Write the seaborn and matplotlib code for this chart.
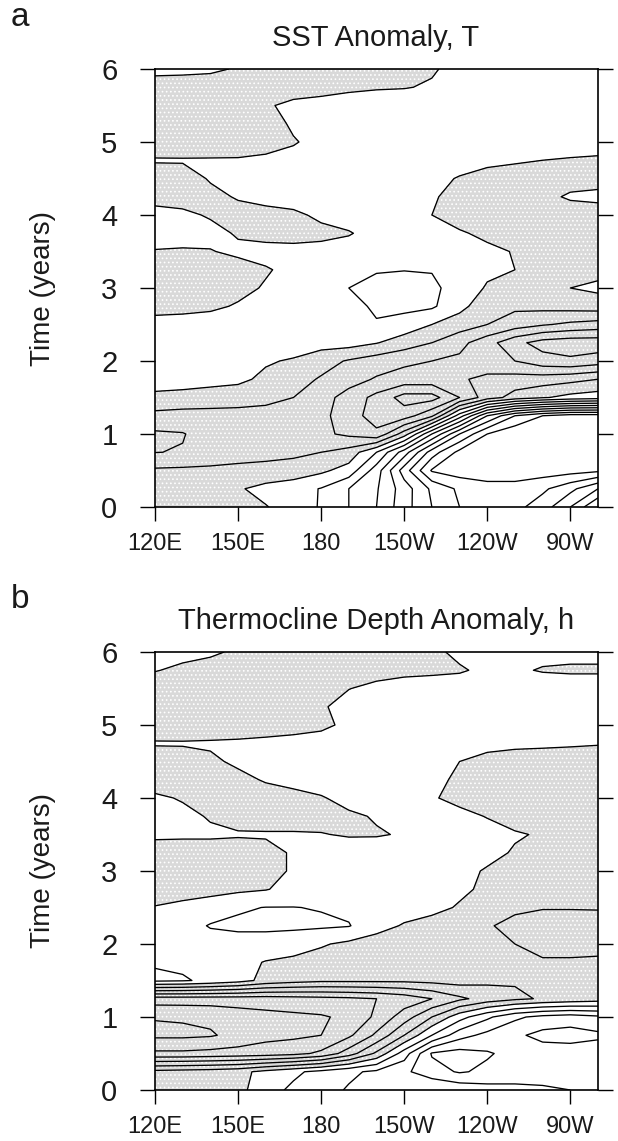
import matplotlib
matplotlib.use("Agg")
import matplotlib.pyplot as plt
import numpy as np
import seaborn as sns

# longitude (deg E) and time (years) of the digitised grid
lons = [120, 130, 140, 150, 160, 170, 180, 190, 200, 210, 220, 230, 240, 250, 260, 270, 280]
years = [6.0, 5.75, 5.5, 5.25, 5.0, 4.75, 4.5, 4.25, 4.0, 3.75, 3.5, 3.25, 3.0,
         2.75, 2.5, 2.25, 2.0, 1.75, 1.5, 1.25, 1.0, 0.75, 0.5, 0.25, 0.0]

# SST anomaly T, one row per year value above
sst_rows = [
    [-0.3, -0.3, -0.2, 0.1, 0.3, 0.3, 0.3, 0.3, 0.3, 0.2, 0.1, -0.3, -0.6, -0.6, -0.5, -0.4, -0.4],
    [0.5, 0.6, 0.6, 0.5, 0.4, 0.4, 0.3, 0.2, 0.1, 0.05, -0.1, -0.4, -0.6, -0.6, -0.5, -0.5, -0.4],
    [0.8, 0.8, 0.8, 0.6, 0.1, -0.2, -0.3, -0.5, -0.6, -0.6, -0.6, -0.6, -0.6, -0.5, -0.5, -0.5, -0.5],
    [0.8, 0.8, 0.8, 0.6, 0.3, -0.1, -0.3, -0.5, -0.6, -0.7, -0.7, -0.7, -0.6, -0.6, -0.5, -0.5, -0.5],
    [0.7, 0.8, 0.7, 0.6, 0.3, 0.05, -0.2, -0.4, -0.6, -0.7, -0.7, -0.7, -0.6, -0.5, -0.4, -0.3, -0.3],
    [-0.1, -0.1, -0.1, -0.1, -0.15, -0.2, -0.3, -0.4, -0.5, -0.5, -0.4, -0.3, -0.2, -0.1, 0.0, 0.05, 0.1],
    [0.6, 0.5, -0.1, -0.3, -0.5, -0.6, -0.6, -0.6, -0.6, -0.5, -0.2, 0.05, 0.3, 0.4, 0.4, 0.3, 0.3],
    [0.3, 0.4, 0.3, -0.1, -0.5, -0.7, -0.8, -0.8, -0.8, -0.6, -0.1, 0.3, 0.5, 0.4, 0.2, -0.1, -0.2],
    [-0.3, -0.2, 0.1, 0.4, 0.5, 0.3, -0.3, -0.6, -0.7, -0.5, 0.0, 0.4, 0.5, 0.5, 0.5, 0.4, 0.4],
    [-0.4, -0.4, -0.3, 0.1, 0.4, 0.5, 0.4, 0.1, -0.5, -0.8, -0.6, -0.1, 0.2, 0.4, 0.5, 0.5, 0.5],
    [0.05, 0.1, 0.05, -0.2, -0.4, -0.4, -0.5, -0.6, -0.8, -0.9, -0.8, -0.5, -0.2, 0.05, 0.3, 0.4, 0.4],
    [0.5, 0.6, 0.6, 0.4, 0.1, -0.3, -0.5, -0.7, -0.95, -0.98, -0.95, -0.6, -0.2, 0.0, 0.3, 0.4, 0.3],
    [0.6, 0.7, 0.6, 0.3, -0.1, -0.4, -0.6, -1.0, -1.2, -1.3, -1.2, -0.6, 0.1, 0.4, 0.3, 0.0, -0.2],
    [0.3, 0.3, 0.2, -0.1, -0.3, -0.5, -0.6, -0.8, -1.1, -1.25, -1.15, -0.3, 0.6, 0.8, 0.7, 0.6, 0.5],
    [-0.3, -0.4, -0.5, -0.5, -0.5, -0.6, -0.7, -1.0, -0.95, -0.6, 0.0, 0.5, 1.0, 1.5, 1.9, 2.2, 2.4],
    [-0.6, -0.6, -0.6, -0.6, -0.6, -0.5, -0.4, -0.4, -0.05, 0.5, 1.0, 1.7, 2.6, 3.7, 4.4, 4.6, 4.6],
    [-0.5, -0.5, -0.5, -0.4, -0.1, 0.1, 0.6, 1.1, 1.5, 1.8, 2.0, 2.2, 2.5, 3.0, 3.6, 3.8, 3.5],
    [-0.4, -0.4, -0.3, -0.2, 0.2, 0.6, 1.1, 1.6, 2.1, 2.4, 2.4, 2.1, 1.8, 1.6, 1.5, 1.3, 1.0],
    [0.2, 0.3, 0.4, 0.5, 0.7, 1.0, 1.6, 2.4, 3.3, 4.4, 4.4, 3.0, 1.5, 0.6, 0.1, -0.3, -0.5],
    [1.3, 1.4, 1.4, 1.4, 1.4, 1.5, 1.7, 2.6, 3.4, 3.5, 2.2, -1.5, -5.0, -7.0, -8.0, -8.5, -8.5],
    [2.15, 2.05, 1.6, 1.5, 1.5, 1.6, 1.8, 2.2, 2.8, 0.5, -3.0, -6.0, -8.0, -8.8, -8.9, -8.8, -8.6],
    [2.02, 1.95, 1.6, 1.4, 1.3, 1.2, 1.0, 0.6, -1.0, -3.5, -6.5, -8.3, -8.7, -8.9, -8.9, -8.8, -8.6],
    [0.85, 0.8, 0.8, 0.75, 0.7, 0.6, 0.2, -0.4, -2.5, -5.5, -8.1, -8.5, -8.6, -8.6, -8.5, -8.4, -8.2],
    [0.6, 0.6, 0.5, 0.1, -0.3, -0.6, -1.05, -2.0, -2.9, -4.5, -6.2, -7.2, -7.6, -7.6, -7.2, -6.3, -5.0],
    [0.6, 0.6, 0.5, 0.3, 0.05, -0.4, -1.1, -2.0, -3.0, -4.6, -6.0, -7.0, -7.4, -7.3, -6.5, -5.0, -3.0],
]

# thermocline depth anomaly h
depth_rows = [
    [-0.3, -0.3, -0.2, 0.2, 0.5, 0.5, 0.5, 0.5, 0.5, 0.4, 0.2, -0.2, -0.4, -0.3, -0.2, -0.2, -0.2],
    [-0.05, 0.2, 0.5, 0.6, 0.7, 0.6, 0.5, 0.4, 0.3, 0.3, 0.2, 0.1, -0.2, -0.1, 0.05, 0.1, 0.1],
    [0.6, 0.7, 0.7, 0.6, 0.3, 0.1, 0.05, 0.02, -0.2, -0.5, -0.5, -0.5, -0.5, -0.4, -0.4, -0.4, -0.4],
    [0.8, 0.9, 0.9, 0.8, 0.6, 0.4, 0.1, -0.3, -0.5, -0.6, -0.6, -0.6, -0.6, -0.5, -0.5, -0.5, -0.5],
    [0.7, 0.8, 0.8, 0.7, 0.6, 0.4, 0.2, -0.2, -0.5, -0.6, -0.6, -0.6, -0.6, -0.5, -0.4, -0.4, -0.4],
    [-0.1, -0.1, -0.15, -0.2, -0.3, -0.35, -0.4, -0.5, -0.5, -0.5, -0.5, -0.4, -0.3, -0.2, -0.15, -0.1, -0.05],
    [0.6, 0.5, 0.2, -0.2, -0.4, -0.5, -0.6, -0.6, -0.6, -0.5, -0.3, 0.0, 0.3, 0.4, 0.4, 0.4, 0.4],
    [0.6, 0.6, 0.5, 0.3, -0.1, -0.4, -0.6, -0.7, -0.7, -0.6, -0.3, 0.2, 0.4, 0.5, 0.5, 0.5, 0.5],
    [-0.2, 0.1, 0.3, 0.5, 0.5, 0.4, 0.1, -0.4, -0.6, -0.5, -0.1, 0.3, 0.5, 0.5, 0.5, 0.5, 0.5],
    [-0.4, -0.3, 0.1, 0.4, 0.5, 0.5, 0.4, 0.2, -0.1, -0.4, -0.6, -0.3, 0.05, 0.4, 0.5, 0.5, 0.5],
    [-0.2, -0.2, -0.2, -0.1, -0.1, -0.1, -0.05, 0.1, 0.1, -0.1, -0.5, -0.6, -0.4, -0.1, 0.1, 0.3, 0.4],
    [0.5, 0.6, 0.6, 0.5, 0.3, -0.1, -0.4, -0.6, -0.7, -0.7, -0.7, -0.5, -0.3, 0.1, 0.4, 0.5, 0.5],
    [0.6, 0.7, 0.7, 0.6, 0.3, -0.1, -0.5, -0.6, -0.7, -0.7, -0.6, -0.3, 0.1, 0.4, 0.5, 0.6, 0.6],
    [0.5, 0.5, 0.4, 0.2, 0.05, -0.3, -0.5, -0.6, -0.6, -0.6, -0.5, -0.2, 0.2, 0.5, 0.6, 0.7, 0.7],
    [-0.05, -0.3, -0.6, -0.9, -1.02, -1.02, -0.95, -0.8, -0.6, -0.5, -0.3, 0.1, 0.5, 0.8, 0.95, 0.95, 0.95],
    [-0.5, -0.7, -1.05, -1.15, -1.2, -1.2, -1.15, -1.05, -0.4, 0.1, 0.4, 0.7, 0.9, 1.3, 1.4, 1.4, 1.3],
    [-0.5, -0.6, -0.7, -0.7, -0.6, -0.4, -0.1, 0.2, 0.5, 0.7, 0.8, 0.9, 0.9, 1.0, 1.3, 1.3, 1.2],
    [-0.9, -0.8, -0.6, -0.3, 0.05, 0.2, 0.4, 0.6, 0.7, 0.7, 0.7, 0.8, 0.9, 0.9, 0.9, 0.9, 0.9],
    [-1.2, -1.1, -0.8, -0.4, 0.3, 0.6, 0.8, 0.8, 0.8, 0.8, 0.7, 0.6, 0.8, 0.9, 0.9, 0.9, 0.9],
    [4.5, 4.5, 4.5, 4.5, 4.5, 4.4, 4.3, 4.2, 4.0, 3.6, 3.0, 2.2, 1.6, 1.2, 0.9, 0.7, 0.5],
    [5.95, 5.9, 5.8, 5.5, 5.3, 5.2, 5.1, 4.8, 3.8, 2.5, 1.0, -0.6, -1.8, -2.8, -3.3, -3.5, -3.2],
    [6.2, 6.2, 6.1, 5.7, 5.3, 5.2, 5.0, 4.2, 2.8, 1.0, -1.0, -2.6, -3.3, -3.8, -4.3, -4.4, -4.2],
    [4.8, 4.8, 4.7, 4.6, 4.5, 4.3, 3.8, 2.5, 0.8, -1.5, -4.1, -4.4, -4.1, -3.7, -3.5, -3.5, -3.4],
    [0.7, 0.6, 0.5, 0.3, -0.3, -0.8, -1.3, -1.8, -2.2, -2.8, -3.6, -4.1, -3.8, -3.4, -3.3, -3.3, -3.3],
    [0.7, 0.8, 0.9, 0.3, -0.6, -1.2, -1.6, -2.1, -2.3, -2.2, -2.0, -2.3, -2.6, -2.8, -2.9, -3.0, -3.1],
]

lon_ticks = [120, 150, 180, 210, 240, 270]
lon_labels = ["120E", "150E", "180", "150W", "120W", "90W"]
time_ticks = [0, 1, 2, 3, 4, 5, 6]
contour_levels = list(range(-9, 8))

sns.set_theme(style="ticks")
plt.rcParams["font.family"] = ["Liberation Sans", "DejaVu Sans"]
plt.rcParams["hatch.color"] = "#9e9e9e"
plt.rcParams["hatch.linewidth"] = 0.7

W, H = 618, 1141
fig = plt.figure(figsize=(W / 100, H / 100), dpi=100)


def draw_panel(ax, rows, title, letter, top_px):
    field = np.array(rows)
    # shaded where the anomaly is positive
    ax.contourf(lons, years, field, levels=[0, 50], colors=["#d9d9d9"], hatches=["...."])
    ax.contour(lons, years, field, levels=contour_levels, colors="black",
               linewidths=0.95, linestyles="solid")
    ax.set_xlim(120, 280)
    ax.set_ylim(0, 6)
    ax.set_xticks(lon_ticks)
    ax.set_xticklabels(lon_labels)
    ax.set_yticks(time_ticks)
    ax.tick_params(axis="y", direction="out", length=11, width=1.0, labelsize=21,
                   pad=16, left=True, right=True, color="black", labelcolor="#1a1a1a")
    ax.tick_params(axis="x", direction="out", length=10, width=1.0, labelsize=17,
                   pad=9, bottom=True, top=False, color="black", labelcolor="#1a1a1a")
    for sp in ax.spines.values():
        sp.set_linewidth(1.2)
        sp.set_color("black")
    fig.text(376 / W, 1 - (top_px - 31) / H, title, ha="center", va="center",
             fontsize=21, color="#1a1a1a")
    fig.text(20 / W, 1 - (top_px - 52) / H, letter, ha="center", va="center",
             fontsize=24, color="#1a1a1a")
    fig.text(43 / W, 1 - (top_px + 219) / H, "Time (years)", rotation=90,
             ha="center", va="center", fontsize=20, color="#1a1a1a")


ax_a = fig.add_axes([155 / W, 1 - 507 / H, 443 / W, 438 / H])
draw_panel(ax_a, sst_rows, "SST Anomaly, T", "a", 69)

ax_b = fig.add_axes([155 / W, 1 - 1090 / H, 443 / W, 438 / H])
draw_panel(ax_b, depth_rows, "Thermocline Depth Anomaly, h", "b", 652)

fig.savefig("out.png", dpi=100, facecolor="white")
plt.close(fig)
